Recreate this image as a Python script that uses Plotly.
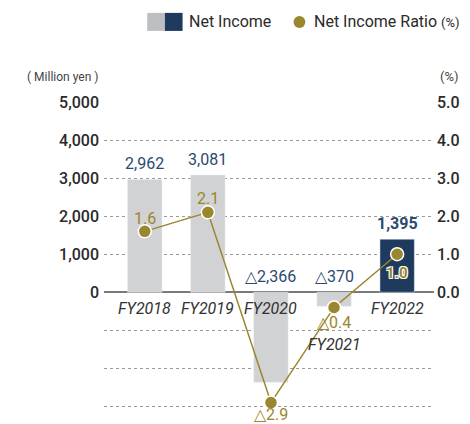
import plotly.graph_objects as go

# data
years = ["FY2018", "FY2019", "FY2020", "FY2021", "FY2022"]
net_income = [2962, 3081, -2366, -370, 1395]
income_ratio = [1.6, 2.1, -2.9, -0.4, 1.0]
left_ticks = [5000, 4000, 3000, 2000, 1000, 0]
right_ticks = [5.0, 4.0, 3.0, 2.0, 1.0, 0.0]
grid_ticks = [-1000, -2000, -3000]

GREY = "#d1d2d4"
NAVY = "#1e3a5c"
NAVY_TXT = "#2c4a70"
OLIVE = "#9a862c"
INK = "#2a2a2a"

W, H = 470, 424
L, R, T = 104, 30, 102
Y0, Y1 = -3200, 5000
plot_h = (Y1 - Y0) * 0.038
B = H - T - plot_h


def fmt(v, dec=0):
    s = f"{abs(v):,.{dec}f}"
    return ("△" + s) if v < 0 else s


def px(x, y):
    # pixel -> paper coords
    return (x - L) / (W - L - R), (H - B - y) / plot_h


bar_colors = [GREY] * (len(years) - 1) + [NAVY]

fig = go.Figure()
fig.add_trace(go.Bar(
    x=years, y=net_income, marker_color=bar_colors, width=0.545,
    showlegend=False, hoverinfo="skip",
))
fig.add_trace(go.Scatter(
    x=years, y=income_ratio, yaxis="y2", mode="lines+markers",
    line=dict(color=OLIVE, width=1.5),
    marker=dict(color=OLIVE, size=13, line=dict(color="white", width=1.5)),
    showlegend=False, hoverinfo="skip",
))

ann = []
# bar value labels
for i, (yr, v) in enumerate(zip(years, net_income)):
    last = i == len(years) - 1
    ann.append(dict(
        x=yr, y=max(v, 0), xref="x", yref="y", text=fmt(v), showarrow=False,
        yshift=16, font=dict(family="Roboto", size=16, color=NAVY_TXT,
                             weight=700 if last else 400),
    ))

# ratio labels
ratio_shift = [13, 14, -12, -15, -19]
for i, (yr, r) in enumerate(zip(years, income_ratio)):
    last = i == len(years) - 1
    f = dict(family="Roboto", size=16, color=OLIVE)
    if last:
        f.update(weight=700, size=15,
                 shadow="1px 1px 0 #fff, -1px -1px 0 #fff, 1px -1px 0 #fff, -1px 1px 0 #fff")
    ann.append(dict(
        x=yr, y=r, xref="x", yref="y2", text=fmt(r, 1), showarrow=False,
        yshift=ratio_shift[i], font=f, borderpad=0,
    ))

# category labels
cat_shift = [-16, -16, -16, -52, -16]
for yr, s in zip(years, cat_shift):
    ann.append(dict(
        x=yr, y=0, xref="x", yref="y", text=yr, showarrow=False, yshift=s,
        font=dict(family="Roboto", size=16, color="#333", style="italic"),
    ))

# axis unit labels
ax_, ay_ = px(100, 77)
ann.append(dict(x=ax_, y=ay_, xref="paper", yref="paper", text="( Million yen )",
                showarrow=False, xanchor="right", yanchor="middle",
                font=dict(family="Roboto", size=12, color="#444")))
ax_, ay_ = px(467, 77)
ann.append(dict(x=ax_, y=ay_, xref="paper", yref="paper", text="(%)",
                showarrow=False, xanchor="right", yanchor="middle",
                font=dict(family="Roboto", size=13, color="#444")))

# legend
lx, ly = px(189, 22)
ann.append(dict(x=lx, y=ly, xref="paper", yref="paper", text="Net Income",
                showarrow=False, xanchor="left", yanchor="middle",
                font=dict(family="Roboto", size=16, color=INK)))
lx, ly = px(316, 22)
ann.append(dict(x=lx, y=ly, xref="paper", yref="paper",
                text='Net Income Ratio <span style="font-size:13px">(%)</span>',
                showarrow=False, xanchor="left", yanchor="middle",
                font=dict(family="Roboto", size=16, color=INK)))

shapes = []
x0, y0 = px(148, 13)
x1, y1 = px(166, 31)
shapes.append(dict(type="rect", xref="paper", yref="paper", x0=x0, y0=y0, x1=x1, y1=y1,
                   fillcolor="#bdbec1", line_width=0))
x0, y0 = px(166, 13)
x1, y1 = px(184, 31)
shapes.append(dict(type="rect", xref="paper", yref="paper", x0=x0, y0=y0, x1=x1, y1=y1,
                   fillcolor=NAVY, line_width=0))
x0, y0 = px(297, 16)
x1, y1 = px(309, 28)
shapes.append(dict(type="circle", xref="paper", yref="paper", x0=x0, y0=y0, x1=x1, y1=y1,
                   fillcolor=OLIVE, line_width=0))

all_ticks = left_ticks + grid_ticks
fig.update_layout(
    width=W, height=H, margin=dict(l=L, r=R, t=T, b=B),
    paper_bgcolor="white", plot_bgcolor="white",
    font=dict(family="Roboto", color=INK),
    bargap=0.4,
    xaxis=dict(range=[-0.646, 4.584], showticklabels=False, showgrid=False,
               zeroline=False, fixedrange=True),
    yaxis=dict(range=[Y0, Y1], tickvals=all_ticks,
               ticktext=[f"{v:,}" for v in left_ticks] + [""] * len(grid_ticks),
               showgrid=True, gridcolor="#9a9a9a", griddash="dot", gridwidth=1,
               zeroline=True, zerolinecolor="#7a7a7a", zerolinewidth=2,
               tickfont=dict(size=16, color=INK, weight=500), ticks="",
               ticklabelstandoff=4),
    yaxis2=dict(range=[Y0 / 1000, Y1 / 1000], overlaying="y", side="right",
                tickvals=right_ticks, ticktext=[f"{v:.1f}" for v in right_ticks],
                showgrid=False, zeroline=False, ticks="",
                tickfont=dict(size=16, color=INK, weight=500),
                ticklabelstandoff=2),
    annotations=ann, shapes=shapes,
)

# page body has a default 8px margin; drop it so the figure sits at the origin
fig.write_html("out.html", config={"displayModeBar": False},
               post_script="document.body.style.margin='0';")
